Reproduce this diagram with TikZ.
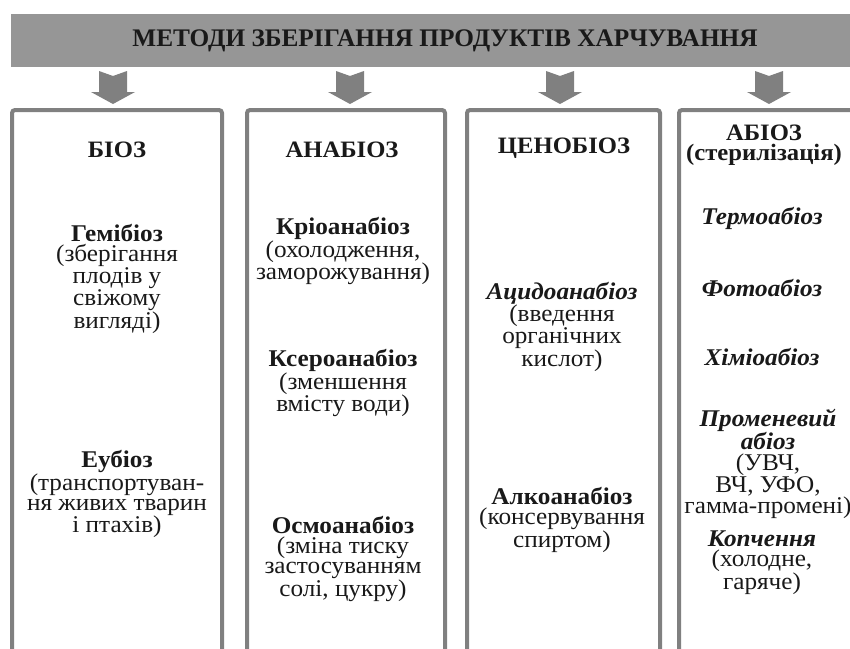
\documentclass[tikz,border=0pt]{standalone}
\usepackage{fontspec}
\setmainfont{Liberation Serif}
\newfontfamily\bodyfont{Liberation Serif}[FakeStretch=1.05]
\definecolor{bannergray}{gray}{0.59}
\definecolor{arrowgray}{gray}{0.50}
\definecolor{boxgray}{gray}{0.50}
\definecolor{inkblack}{gray}{0.1}
\begin{document}
\begin{tikzpicture}[x=1pt,y=-1pt,
  panel/.style={draw=boxgray,line width=4pt,rounded corners=3pt},
  downarrow/.style={fill=arrowgray,draw=none},
  heading/.style={font=\bodyfont\fontsize{23.5}{20}\selectfont\bfseries,align=center,anchor=center,inner sep=0pt,text=inkblack},
  item/.style={font=\bodyfont\fontsize{24}{20}\selectfont,align=center,anchor=center,inner sep=0pt,text=inkblack},
  titletext/.style={font=\fontsize{25.3}{25}\selectfont\bfseries,anchor=center,inner sep=0pt,text=inkblack},
]
\useasboundingbox (0,0) rectangle (850,648);
\clip (0,0) rectangle (850,648);
\fill[white] (0,0) rectangle (850,648);

% title banner
\fill[bannergray] (11,14) rectangle (870,67);
\node[titletext] (title) at (445,41) {МЕТОДИ ЗБЕРІГАННЯ ПРОДУКТІВ ХАРЧУВАННЯ};

% block arrows under the banner
\foreach \cx in {113,350,560,769}{
  \fill[downarrow] (\cx-14,71) -- (\cx,76) -- (\cx+14,71) -- (\cx+14,92)
    -- (\cx+22,92) -- (\cx,104) -- (\cx-22,92) -- (\cx-14,92) -- cycle;
}

% four columns, open at the bottom
\draw[panel] (12,700) -- (12,110) -- (222,110) -- (222,700);
\draw[panel] (247,700) -- (247,110) -- (445,110) -- (445,700);
\draw[panel] (467,700) -- (467,110) -- (660,110) -- (660,700);
\draw[panel] (679,700) -- (679,110) -- (900,110) -- (900,700);

% column 1
\node[heading] (bio) at (117,150) {БІОЗ};
\node[item] (hemi) at (117,279) {\textbf{Гемібіоз}\\(зберігання\\плодів у\\свіжому\\вигляді)};
\node[item] (eu) at (117,494) {\textbf{Еубіоз}\\(транспортуван-\\ня живих тварин\\і птахів)};

% column 2
\node[heading] (anab) at (342,150) {АНАБІОЗ};
\node[item] (krio) at (343,251) {\textbf{Кріоанабіоз}\\(охолодження,\\заморожування)};
\node[item] (ksero) at (343,383) {\textbf{Ксероанабіоз}\\(зменшення\\вмісту води)};
\node[item] (osmo) at (343,559) {\textbf{Осмоанабіоз}\\(зміна тиску\\застосуванням\\солі, цукру)};

% column 3
\node[heading] (ceno) at (564,148) {ЦЕНОБІОЗ};
\node[item] (acido) at (562,327) {\textbf{\textit{Ацидоанабіоз}}\\(введення\\органічних\\кислот)};
\node[item] (alko) at (562,520) {\textbf{Алкоанабіоз}\\(консервування\\спиртом)};

% column 4
\node[heading] (abio) at (764,145) {АБІОЗ\\(стерилізація)};
\node[item] (termo) at (762,218) {\textbf{\textit{Термоабіоз}}};
\node[item] (foto) at (762,288) {\textbf{\textit{Фотоабіоз}}};
\node[item] (khimi) at (762,357) {\textbf{\textit{Хіміоабіоз}}};
\node[item,font=\bodyfont\fontsize{24}{21.5}\selectfont] (prom) at (768,464) {\textbf{\textit{Променевий}}\\\textbf{\textit{абіоз}}\\(УВЧ,\\ВЧ, УФО,\\гамма-промені)};
\node[item] (kopch) at (762,563) {\textbf{\textit{Копчення}}\\(холодне,\\гаряче)};
\end{tikzpicture}
\end{document}
